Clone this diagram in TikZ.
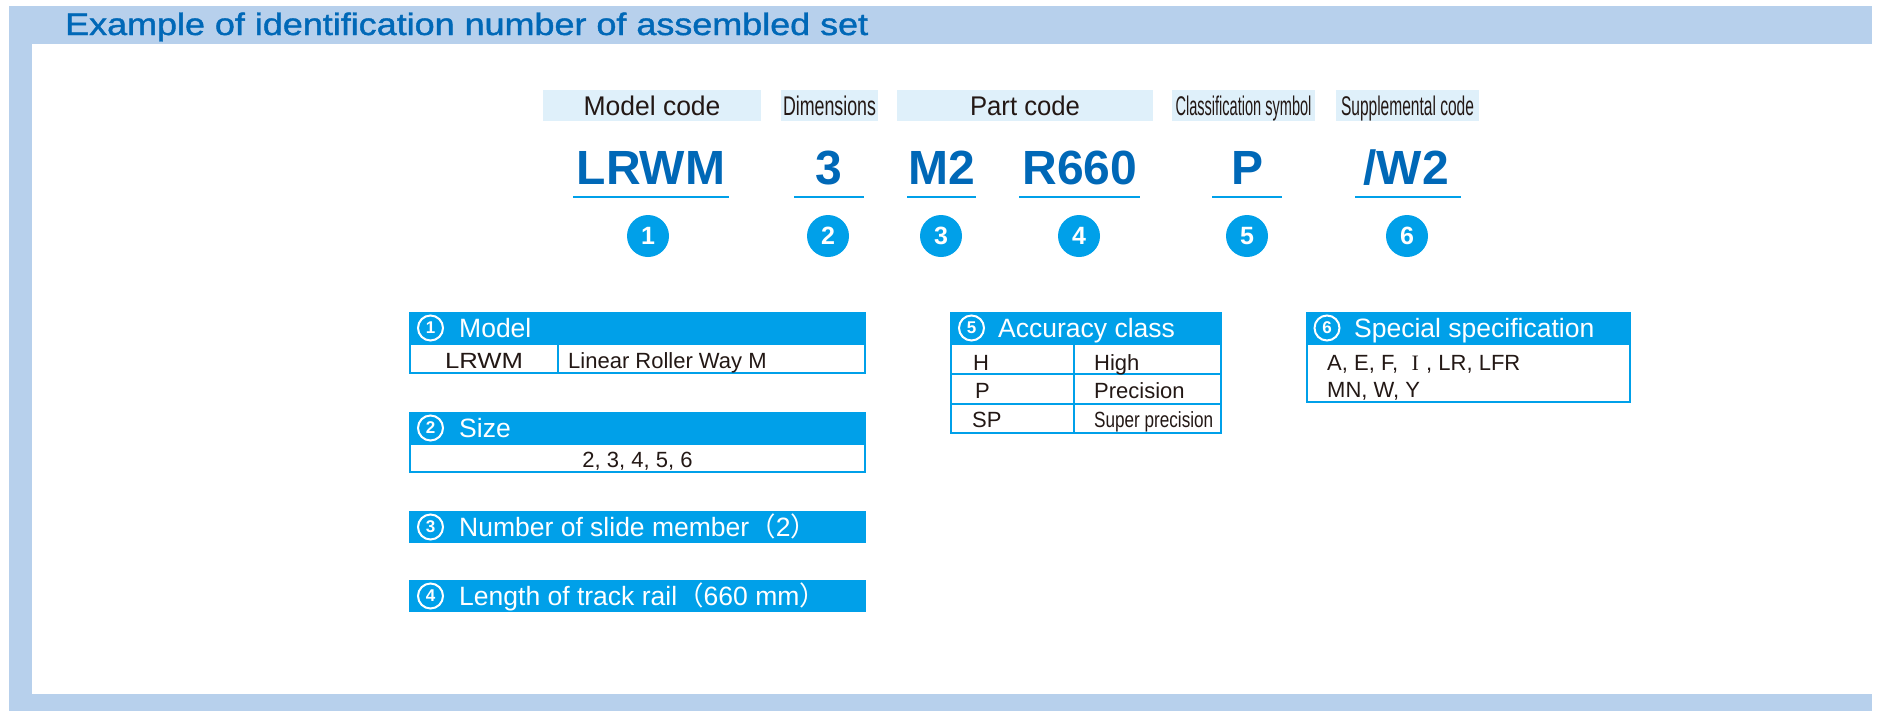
\documentclass[tikz,border=0pt]{standalone}
\usepackage{fontspec}
\setmainfont{Liberation Sans}
\newfontfamily\cjk{Noto Sans CJK JP}
\newfontfamily\medium[FakeBold=1.2]{Liberation Sans}
\newfontfamily\serif{Liberation Serif}
\usetikzlibrary{positioning}
\definecolor{framebg}{HTML}{B7D0EC}
\definecolor{titleblue}{HTML}{0068B7}
\definecolor{cyanhead}{HTML}{00A0E9}
\definecolor{tagfill}{HTML}{DFF0FA}
\definecolor{inktext}{HTML}{231815}
\newcommand{\px}[1]{\fontsize{#1}{#1}\selectfont}
\newcommand{\squeeze}[2]{\resizebox{#1pt}{\height}{#2}}

\begin{document}
\begin{tikzpicture}[x=1pt, y=-1pt,
  tag/.style={rectangle, fill=tagfill, inner sep=0pt, minimum height=31pt,
              text height=20pt, text depth=1pt, font=\px{27}, text=inktext},
  code/.style={inner sep=0pt, anchor=base, font=\px{48}\bfseries, text=titleblue},
  uline/.style={cyanhead, line width=2.5pt},
  badge/.style={circle, fill=cyanhead, inner sep=0pt, minimum size=42pt,
                font=\px{25}\bfseries, text=white},
  head/.style={rectangle, fill=cyanhead, inner sep=0pt, minimum height=32pt,
               anchor=north west},
  ring/.style={circle, draw=white, line width=2pt, inner sep=0pt,
               minimum size=25pt, font=\px{17}\bfseries, text=white},
  headtext/.style={anchor=base west, inner sep=0pt, font=\px{26.5}, text=white},
  cell/.style={anchor=base west, inner sep=0pt, font=\px{22}, text=inktext},
  rule/.style={cyanhead, line width=2pt},
]
  \useasboundingbox (0,0) rectangle (1894,718);
  % frame
  \fill[framebg] (9,6) rectangle (1872,711);
  \fill[white] (32,44) rectangle (1872,694);
  \node[anchor=base west, inner sep=0pt, font=\medium\px{31}, text=titleblue] (title) at (65,35)
       {\squeeze{803}{Example of identification number of assembled set}};

  % code labels
  \node[tag, minimum width=218pt] (tmodel) at (652,105.5) {\squeeze{137}{Model code}};
  \node[tag, minimum width=97pt] (tdim) at (829.5,105.5) {\squeeze{93}{Dimensions}};
  \node[tag, minimum width=256pt] (tpart) at (1025,105.5) {\squeeze{110}{Part code}};
  \node[tag, minimum width=143pt] (tclass) at (1243.5,105.5) {\squeeze{136}{Classification symbol}};
  \node[tag, minimum width=143pt] (tsupp) at (1407.5,105.5) {\squeeze{133}{Supplemental code}};

  % identification number
  \node[code] (cmodel) at (651,184) {LRWM};
  \node[code] (cdim) at (829,184) {3};
  \node[code] (cslide) at (942,184) {M2};
  \node[code] (crail) at (1080,184) {R660};
  \node[code] (cclass) at (1247,184) {P};
  \node[code] (csupp) at (1406,184) {/W2};

  \draw[uline] (573,197) -- (729,197);
  \draw[uline] (794,197) -- (864,197);
  \draw[uline] (907,197) -- (976,197);
  \draw[uline] (1019,197) -- (1140,197);
  \draw[uline] (1212,197) -- (1282,197);
  \draw[uline] (1355,197) -- (1461,197);

  \node[badge] (b1) at (648,236) {1};
  \node[badge] (b2) at (828,236) {2};
  \node[badge] (b3) at (941,236) {3};
  \node[badge] (b4) at (1079,236) {4};
  \node[badge] (b5) at (1247,236) {5};
  \node[badge] (b6) at (1407,236) {6};

  % (1) model
  \node[head, minimum width=457pt] (h1) at (409,312) {};
  \node[ring] (r1) at (430.5,328) {1};
  \node[headtext] (l1) at (459,337.5) {Model};
  \draw[rule] (410,344) rectangle (865,373);
  \draw[rule] (558,344) -- (558,373);
  \node[cell, anchor=base] (m1) at (484,368) {\squeeze{78}{LRWM}};
  \node[cell] (m2) at (568,368) {Linear Roller Way M};

  % (2) size
  \node[head, minimum width=457pt] (h2) at (409,412) {};
  \node[ring] (r2) at (430.5,428) {2};
  \node[headtext] (l2) at (459,437.5) {Size};
  \draw[rule] (410,444) rectangle (865,472);
  \node[cell, anchor=base] (s1) at (637.5,467) {2, 3, 4, 5, 6};

  % (3) slide member
  \node[head, minimum width=457pt] (h3) at (409,511) {};
  \node[ring] (r3) at (430.5,527) {3};
  \node[headtext] (l3) at (459,536.5) {Number of slide member{\cjk （}2{\cjk ）}};

  % (4) rail length
  \node[head, minimum width=457pt] (h4) at (409,580) {};
  \node[ring] (r4) at (430.5,596) {4};
  \node[headtext] (l4) at (459,605.5) {Length of track rail{\cjk （}660 mm{\cjk ）}};

  % (5) accuracy class
  \node[head, minimum width=272pt] (h5) at (950,312) {};
  \node[ring] (r5) at (971.5,328) {5};
  \node[headtext] (l5) at (998,337.5) {Accuracy class};
  \draw[rule] (951,344) rectangle (1221,433);
  \draw[rule] (951,373.5) -- (1221,373.5);
  \draw[rule] (951,403.5) -- (1221,403.5);
  \draw[rule] (1074,344) -- (1074,433);
  \node[cell] (a1) at (973,370) {H};
  \node[cell] (a2) at (1094,370) {High};
  \node[cell] (a3) at (975,398) {P};
  \node[cell] (a4) at (1094,398) {Precision};
  \node[cell] (a5) at (972,427) {SP};
  \node[cell] (a6) at (1094,427) {\squeeze{119}{Super precision}};

  % (6) special specification
  \node[head, minimum width=325pt] (h6) at (1306,312) {};
  \node[ring] (r6) at (1327,328) {6};
  \node[headtext] (l6) at (1354,337.5) {Special specification};
  \draw[rule] (1307,344) rectangle (1630,402);
  \node[cell] (p1) at (1327,370) {A, E, F, \makebox[22pt]{\serif I}, LR, LFR};
  \node[cell] (p2) at (1327,397) {MN, W, Y};
\end{tikzpicture}
\end{document}
